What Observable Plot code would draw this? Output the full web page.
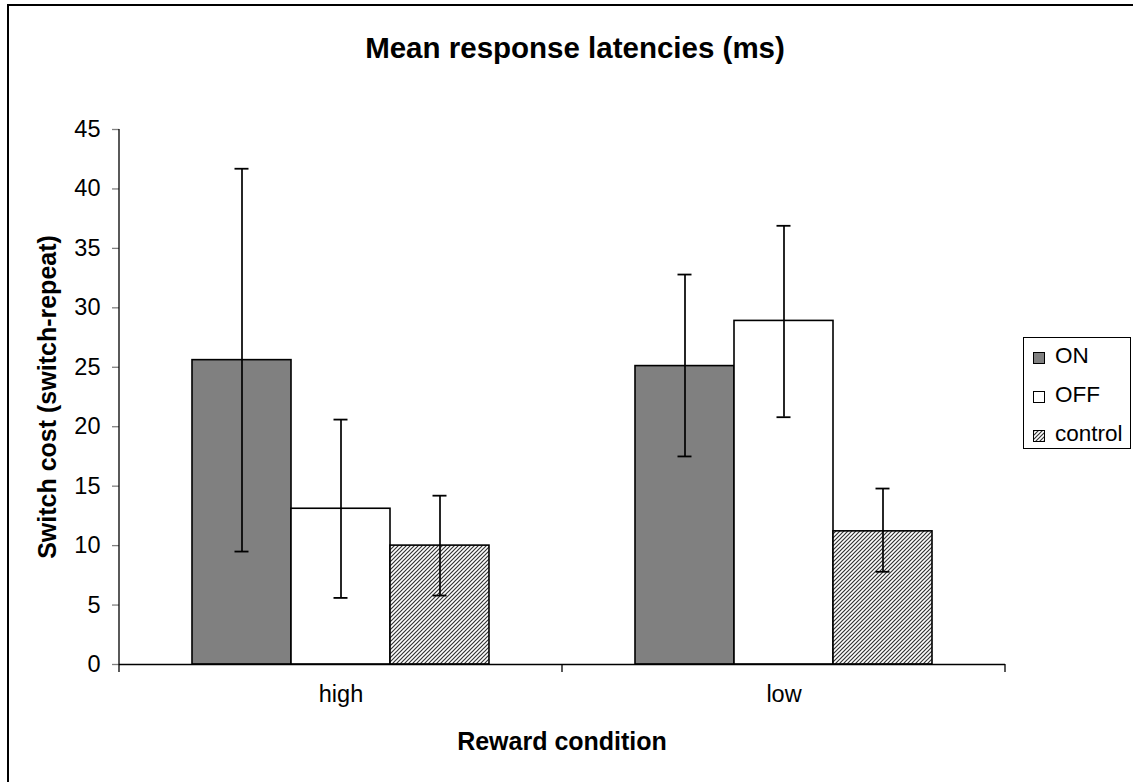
<!DOCTYPE html>
<html>
<head>
<meta charset="utf-8">
<script src="https://cdn.jsdelivr.net/npm/d3@7"></script>
<script src="https://cdn.jsdelivr.net/npm/@observablehq/plot@0.6"></script>
<style>
  body { margin: 0; background: #fff; font-family: "Liberation Sans", Arial, sans-serif; }
  #wrap { position: relative; width: 1133px; height: 782px; overflow: hidden; background: #fff; }
  .abs { position: absolute; white-space: nowrap; line-height: 1; color: #000; }
  #border { position: absolute; left: 7px; top: 4px; width: 1200px; height: 900px; border-left: 2px solid #000; border-top: 2px solid #000; }
  .sw { position: absolute; width: 10px; height: 10px; border: 1px solid #000; }
</style>
</head>
<body>
<svg width="0" height="0" style="position:absolute">
  <defs>
    <pattern id="hatch" patternUnits="userSpaceOnUse" width="4" height="4">
      <rect width="4" height="4" fill="#fff"/>
      <path d="M-1,1 L1,-1 M0,4 L4,0 M3,5 L5,3" stroke="#333" stroke-width="1.2"/>
    </pattern>
  </defs>
</svg>
<div id="wrap">
  <div id="border"></div>
  <div id="chart" style="position:absolute;left:0;top:0"></div>
  <div class="abs" id="title" style="left:575px;top:33px;transform:translateX(-50%);font-size:29.5px;font-weight:bold;">Mean response latencies (ms)</div>
  <div class="abs" id="xtitle" style="left:562px;top:729px;transform:translateX(-50%);font-size:25px;font-weight:bold;">Reward condition</div>
  <div class="abs" id="ytitle" style="left:47px;top:397px;transform:translate(-50%,-50%) rotate(-90deg);font-size:25px;font-weight:bold;">Switch cost (switch-repeat)</div>
  <div id="legend" style="position:absolute;left:1023px;top:337px;width:106px;height:110px;border:1px solid #000;"></div>
</div>
<script>
const conditions = ["high", "low"];
const series = ["ON", "OFF", "control"];
const onValues = [25.6, 25.1];
const offValues = [13.1, 28.9];
const controlValues = [10.0, 11.2];
const onLow = [9.5, 17.5];
const onHigh = [41.7, 32.8];
const offLow = [5.6, 20.8];
const offHigh = [20.6, 36.9];
const controlLow = [5.8, 7.8];
const controlHigh = [14.2, 14.8];
const yTicks = [0, 5, 10, 15, 20, 25, 30, 35, 40, 45];
const seriesFills = ["#808080", "#ffffff", "url(#hatch)"];

const values = {ON: onValues, OFF: offValues, control: controlValues};
const lows = {ON: onLow, OFF: offLow, control: controlLow};
const highs = {ON: onHigh, OFF: offHigh, control: controlHigh};
const data = [];
conditions.forEach((c, i) => {
  series.forEach(s => {
    data.push({condition: c, series: s, value: values[s][i], lo: lows[s][i], hi: highs[s][i]});
  });
});

const plot = Plot.plot({
  width: 1133,
  height: 782,
  marginLeft: 119,
  marginRight: 128,
  marginTop: 129,
  marginBottom: 118,
  style: {fontFamily: '"Liberation Sans", Arial, sans-serif', fontSize: "23px", background: "transparent", color: "#000"},
  fx: {domain: conditions, padding: 0, label: null},
  x: {domain: series, paddingInner: 0, paddingOuter: 0.73, axis: null},
  y: {domain: [0, 45], label: null},
  color: {domain: series, range: seriesFills},
  marks: [
    Plot.barY(data, {fx: "condition", x: "series", y: "value", fill: "series", stroke: "#000", strokeWidth: 1.6}),
    Plot.ruleX(data, {fx: "condition", x: "series", y1: "lo", y2: "hi", stroke: "#000", strokeWidth: 1.7}),
    Plot.tickY(data, {fx: "condition", x: "series", y: "hi", stroke: "#000", strokeWidth: 1.8, insetLeft: 42.5, insetRight: 42.5}),
    Plot.tickY(data, {fx: "condition", x: "series", y: "lo", stroke: "#000", strokeWidth: 1.8, insetLeft: 42.5, insetRight: 42.5}),
    Plot.ruleY([0], {stroke: "#000", strokeWidth: 1.3}),
    Plot.axisY({ticks: yTicks, tickSize: 7, tickPadding: 12, stroke: "#808080", strokeWidth: 1.3, fontSize: 23.5, label: null, tickFormat: d => String(d)}),
    Plot.axisFx({anchor: "bottom", tickSize: 0, tickPadding: 21, fontSize: 23.5, label: null})
  ]
});
document.getElementById("chart").appendChild(plot);

// axis line and category boundary ticks from the library's scales
const yS = plot.scale("y");
const fxS = plot.scale("fx");
const svg = d3.select(plot);
const y0 = yS.apply(0), yTop = yS.apply(45);
const x0 = fxS.apply(conditions[0]);
svg.append("line").attr("x1", x0).attr("x2", x0).attr("y1", yTop).attr("y2", y0)
  .attr("stroke", "#000").attr("stroke-width", 1.3);
const bounds = conditions.map(c => fxS.apply(c));
bounds.push(fxS.apply(conditions[conditions.length - 1]) + fxS.bandwidth);
bounds.forEach(bx => {
  svg.append("line").attr("x1", bx).attr("x2", bx).attr("y1", y0).attr("y2", y0 + 8)
    .attr("stroke", "#000").attr("stroke-width", 1.3);
});

// legend
const legend = document.getElementById("legend");
series.forEach((s, i) => {
  const sw = document.createElement("div");
  sw.className = "sw";
  sw.style.left = "9px";
  sw.style.top = (14 + i * 39) + "px";
  if (seriesFills[i].startsWith("url")) {
    sw.innerHTML = '<svg width="10" height="10" style="display:block"><rect width="10" height="10" fill="url(#hatch)"/></svg>';
  } else {
    sw.style.background = seriesFills[i];
  }
  legend.appendChild(sw);
  const t = document.createElement("div");
  t.className = "abs";
  t.style.left = "31px";
  t.style.top = (7 + i * 39) + "px";
  t.style.fontSize = "22.5px";
  t.textContent = s;
  legend.appendChild(t);
});
</script>
</body>
</html>
